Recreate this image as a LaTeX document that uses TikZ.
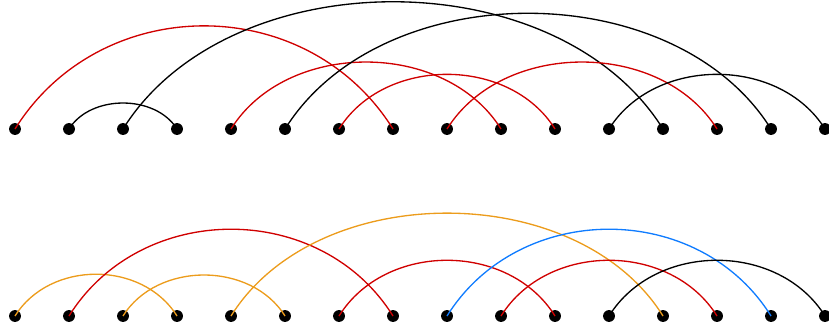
\documentclass[tikz,border=0pt]{standalone}
\usepackage{tikz}

\definecolor{rouge}{RGB}{208,0,0}
\definecolor{ocre}{RGB}{236,156,28}
\definecolor{bleu}{RGB}{16,124,255}

\tikzset{
  point/.style={circle,fill=black,inner sep=0pt,minimum size=0.22cm},
  lien/.style={line width=0.7pt,bend left=58}
}

\begin{document}
\begin{tikzpicture}

\useasboundingbox (-0.278,0) rectangle (15.074,6.167);

% Points
\foreach \i in {1,...,16} {
  \node[point] (h\i) at ({\i-1},3.778) {};
  \node[point] (b\i) at ({\i-1},0.315) {};
}

% Rangée du haut
\draw[lien,rouge,looseness=1.1] (h1.center) to (h8.center);
\draw[lien,looseness=0.97] (h2.center) to (h4.center);
\draw[lien,looseness=0.95] (h3.center) to (h13.center);
\draw[lien,rouge] (h5.center) to (h10.center);
\draw[lien,looseness=0.96] (h6.center) to (h15.center);
\draw[lien,rouge,looseness=1.02] (h7.center) to (h11.center);
\draw[lien,rouge] (h9.center) to (h14.center);
\draw[lien,looseness=1.02] (h12.center) to (h16.center);

% Rangée du bas
\draw[lien,ocre,looseness=1.04] (b1.center) to (b4.center);
\draw[lien,rouge,looseness=1.08] (b2.center) to (b8.center);
\draw[lien,ocre,looseness=1.02] (b3.center) to (b6.center);
\draw[lien,ocre,looseness=0.96] (b5.center) to (b13.center);
\draw[lien,rouge,looseness=1.04] (b7.center) to (b11.center);
\draw[lien,bleu,looseness=1.08] (b9.center) to (b15.center);
\draw[lien,rouge,looseness=1.04] (b10.center) to (b14.center);
\draw[lien,looseness=1.04] (b12.center) to (b16.center);

\end{tikzpicture}
\end{document}
